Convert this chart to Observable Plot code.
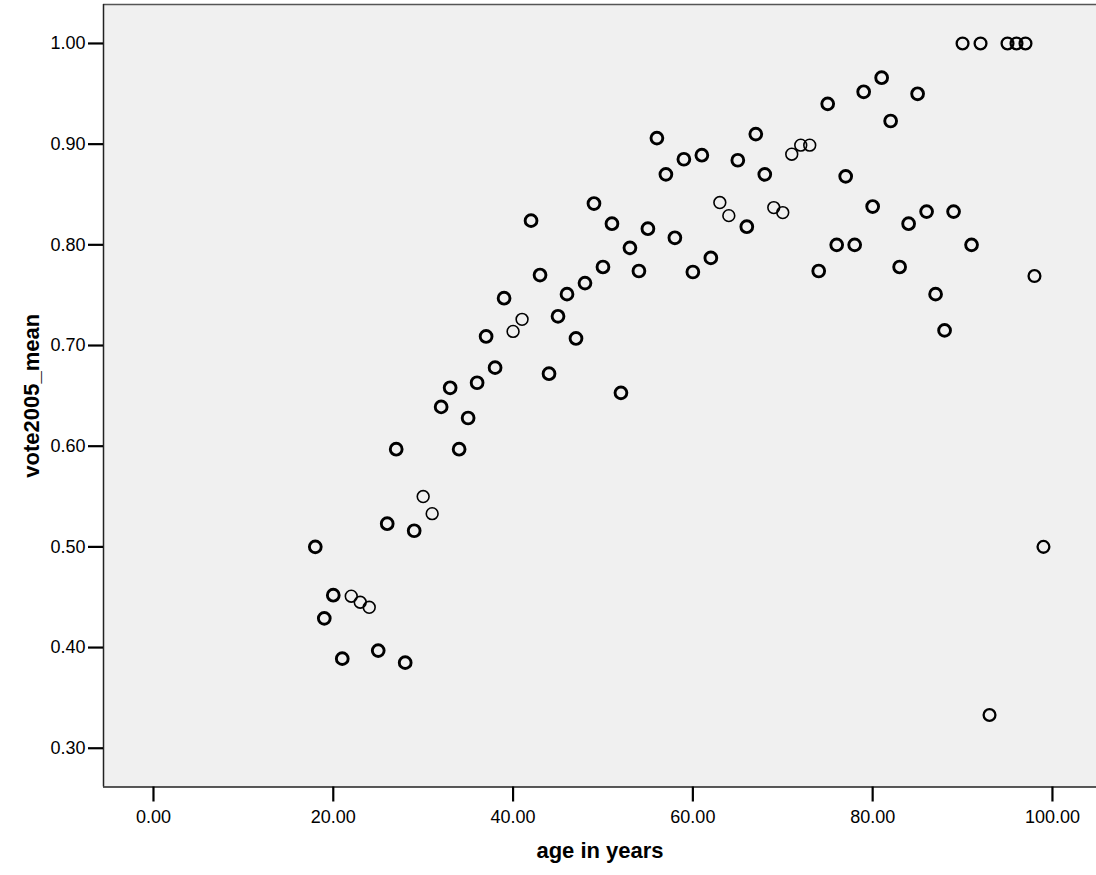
<!DOCTYPE html>
<html>
<head>
<meta charset="utf-8">
<script src="https://cdn.jsdelivr.net/npm/d3@7"></script>
<script src="https://cdn.jsdelivr.net/npm/@observablehq/plot@0.6"></script>
<style>
  html, body { margin: 0; padding: 0; background: #ffffff; }
  #chart svg { display: block; }
</style>
</head>
<body>
<div id="chart"></div>
<script>
const ages = [18,19,20,21,22,23,24,25,26,27,28,29,30,31,32,33,34,35,36,37,38,39,40,41,42,43,44,45,46,47,48,49,50,51,52,53,54,55,56,57,58,59,60,61,62,63,64,65,66,67,68,69,70,71,72,73,74,75,76,77,78,79,80,81,82,83,84,85,86,87,88,89,90,91,92,93,95,96,97,98,99];
const voteMeans = [0.500,0.429,0.452,0.389,0.451,0.445,0.440,0.397,0.523,0.597,0.385,0.516,0.550,0.533,0.639,0.658,0.597,0.628,0.663,0.709,0.678,0.747,0.714,0.726,0.824,0.770,0.672,0.729,0.751,0.707,0.762,0.841,0.778,0.821,0.653,0.797,0.774,0.816,0.906,0.870,0.807,0.885,0.773,0.889,0.787,0.842,0.829,0.884,0.818,0.910,0.870,0.837,0.832,0.890,0.899,0.899,0.774,0.940,0.800,0.868,0.800,0.952,0.838,0.966,0.923,0.778,0.821,0.950,0.833,0.751,0.715,0.833,1.000,0.800,1.000,0.333,1.000,1.000,1.000,0.769,0.500];
const lightAges = [22,23,24,30,31,40,41,63,64,69,70,71,72,73];
const mediumAges = [90,92,93,95,96,97,98,99];
const xTicks = [0,20,40,60,80,100];
const yTicks = [0.3,0.4,0.5,0.6,0.7,0.8,0.9,1.0];
const xTitle = "age in years";
const yTitle = "vote2005_mean";

const data = ages.map((a, i) => ({
  age: a,
  vote: voteMeans[i],
  group: lightAges.includes(a) ? "light" : mediumAges.includes(a) ? "medium" : "heavy"
}));

const xDom = [-5.56, 104.9];
const yDom = [0.2615, 1.0387];
const font = "'Liberation Sans', Arial, Helvetica, sans-serif";

const chart = Plot.plot({
  width: 1096,
  height: 875,
  marginLeft: 103,
  marginRight: 0,
  marginTop: 4,
  marginBottom: 88.5,
  style: { fontFamily: font, background: "#ffffff", color: "#000" },
  x: { domain: xDom },
  y: { domain: yDom },
  marks: [
    Plot.frame({ fill: "#f0f0f0", stroke: null }),
    Plot.ruleY([yDom[1]], { stroke: "#555", strokeWidth: 1.5 }),
    Plot.ruleX([xDom[0]], { stroke: "#222", strokeWidth: 1.5 }),
    Plot.ruleY([yDom[0]], { stroke: "#222", strokeWidth: 1.5 }),
    Plot.axisY({ ticks: yTicks, tickFormat: d => d.toFixed(2), tickSize: 15, tickPadding: 3, fontSize: 18, strokeWidth: 2.2, label: null }),
    Plot.axisX({ ticks: xTicks, tickFormat: d => d.toFixed(2), tickSize: 15, tickPadding: 8, fontSize: 18, strokeWidth: 2.2, label: null }),
    Plot.dot(data, {
      x: "age", y: "vote", r: 5.9, stroke: "black", fill: "none",
      strokeWidth: d => d.group === "light" ? 1.6 : d.group === "medium" ? 2.3 : 2.9
    }),
    Plot.text([xTitle], { frameAnchor: "bottom", dy: 71, fontSize: 22, fontWeight: "bold", fill: "#000" }),
    Plot.text([yTitle], { frameAnchor: "left", dx: -72, rotate: -90, textAnchor: "middle", fontSize: 22, fontWeight: "bold", fill: "#000" })
  ]
});
document.getElementById("chart").appendChild(chart);
</script>
</body>
</html>
